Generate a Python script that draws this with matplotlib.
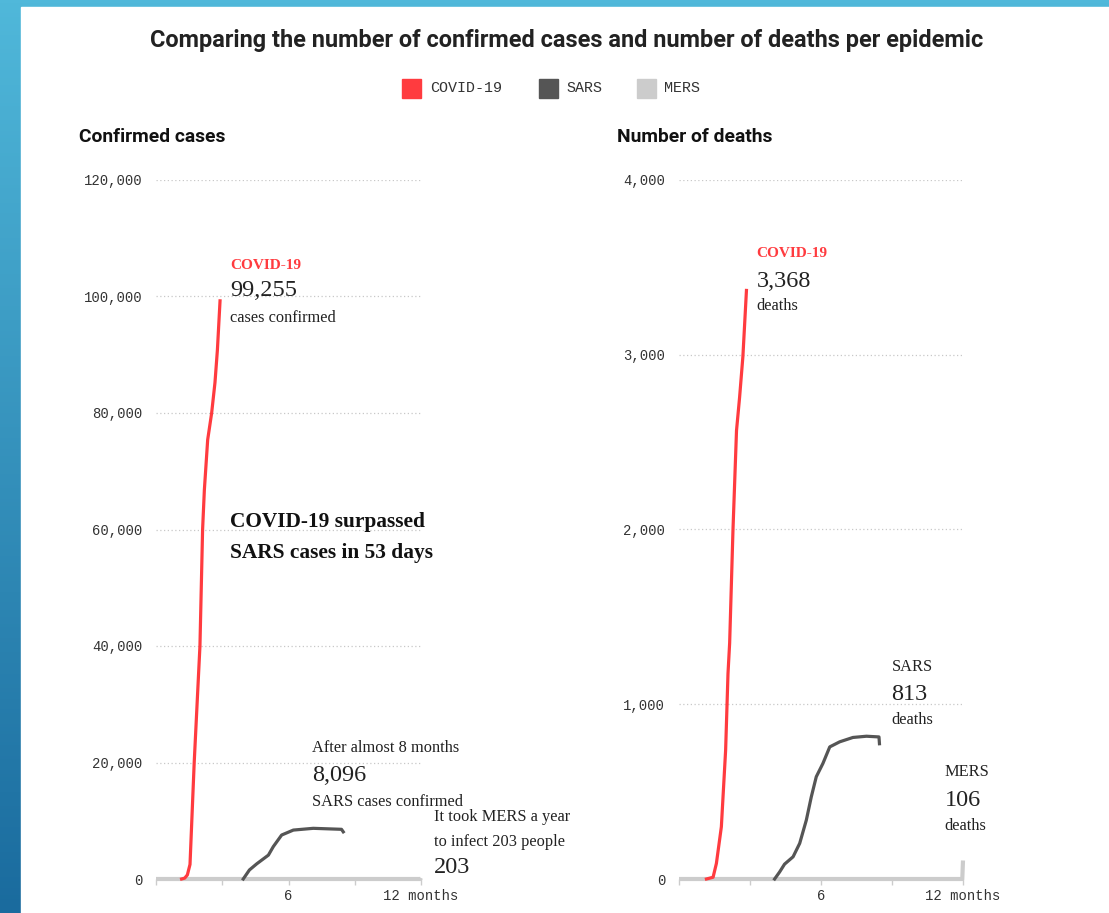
import numpy as np
import matplotlib
matplotlib.use('Agg')
import matplotlib.pyplot as plt
from matplotlib import font_manager
from matplotlib.patches import Rectangle

## Data (x = months since the epidemic started)
covid_case_months = [0.0, 1.16, 1.30, 1.42, 1.54, 1.73, 1.99, 2.11, 2.19, 2.34, 2.52, 2.67, 2.78, 2.90]
covid_cases = [0, 0, 150, 700, 2500, 20000, 40000, 60000, 66800, 75400, 80000, 85200, 90800, 99255]
sars_case_months = [0.0, 3.95, 4.23, 4.56, 5.09, 5.31, 5.69, 6.22, 7.12, 8.40, 8.48]
sars_cases = [0, 0, 1550, 2600, 4100, 5550, 7550, 8400, 8700, 8530, 8096]
mers_case_months = [0.0, 11.97, 12.0]
mers_cases = [0, 0, 203]

covid_death_months = [0.0, 1.16, 1.44, 1.58, 1.79, 1.97, 2.07, 2.14, 2.28, 2.43, 2.56, 2.70, 2.85]
covid_deaths = [0, 0, 10, 89, 299, 737, 1175, 1350, 1994, 2566, 2756, 2990, 3368]
sars_death_months = [0.0, 4.04, 4.25, 4.46, 4.82, 5.10, 5.38, 5.59, 5.80, 6.08, 6.37, 6.79, 7.35, 7.92, 8.45, 8.47]
sars_deaths = [0, 0, 40, 85, 127, 204, 337, 470, 585, 661, 756, 785, 810, 817, 813, 774]
mers_death_months = [0.0, 11.97, 12.0]
mers_deaths = [0, 0, 106]

case_ticks = [0, 20000, 40000, 60000, 80000, 100000, 120000]
death_ticks = [0, 1000, 2000, 3000, 4000]
series_names = ['COVID-19', 'SARS', 'MERS']
series_colors = ['#ff3b3f', '#555555', '#cccccc']

W, H = 1109, 913
names = {f.name for f in font_manager.fontManager.ttflist}
COND = 'Roboto' if 'Roboto' in names else 'DejaVu Sans'
MONO = 'Liberation Mono'
SERIF = 'Liberation Serif'
small = 11.8   # small annotation text
big = 17.5     # the headline numbers
lw = 2.3

def fx(x):
    return x / W

def fy(y):
    return 1 - y / H

fig = plt.figure(figsize=(W / 100, H / 100), dpi=100)

# blue frame on the left and top
bg = fig.add_axes([0, 0, 1, 1], zorder=-10)
grad = np.linspace(0, 1, 256).reshape(-1, 1)
cmap = matplotlib.colors.LinearSegmentedColormap.from_list('frame', ['#50b8da', '#1a6b9e'])
bg.imshow(grad, aspect='auto', cmap=cmap, extent=[0, 1, 0, 1])
bg.add_patch(Rectangle((fx(21), 0), 1, fy(7), color='white', transform=bg.transAxes))
bg.set_axis_off()

# title and legend
fig.text(fx(567), fy(41), 'Comparing the number of confirmed cases and number of deaths per epidemic',
         ha='center', va='center', fontsize=16.9, fontweight='bold', family=COND, color='#222222')
leg_sq = [402, 539, 637]
leg_tx = [430, 566, 664]
for sx, tx, name, col in zip(leg_sq, leg_tx, series_names, series_colors):
    fig.patches.append(Rectangle((fx(sx), fy(98)), fx(19), 19 / H, color=col, transform=fig.transFigure))
    fig.text(fx(tx), fy(88), name, ha='left', va='center', fontsize=10.8, family=MONO, color='#333333')

fig.text(fx(79), fy(137), 'Confirmed cases', ha='left', va='center', fontsize=13.9,
         fontweight='bold', family=COND, color='#111111')
fig.text(fx(617), fy(137), 'Number of deaths', ha='left', va='center', fontsize=13.9,
         fontweight='bold', family=COND, color='#111111')


def setup_axis(ax, ymax, yticks):
    ax.set_xlim(0, 12)
    ax.set_ylim(0, ymax)
    for s in ax.spines.values():
        s.set_visible(False)
    ax.set_yticks(yticks)
    ax.set_yticklabels([f'{t:,}' for t in yticks], family=MONO, fontsize=10, color='#333333')
    ax.tick_params(axis='y', length=0, pad=10)
    for t in yticks[1:]:
        ax.axhline(t, color='#c8c8c8', lw=0.9, ls=(0, (1, 2)), zorder=0)
    ax.set_xticks([0, 3, 6, 9, 12])
    ax.set_xticklabels(['', '', '6', '', '12 months'], family=MONO, fontsize=10, color='#333333')
    ax.tick_params(axis='x', length=4, width=1, color='#cccccc', pad=3)


# left panel: confirmed cases
ax1 = fig.add_axes([fx(156), fy(879), fx(421) - fx(156), fy(180) - fy(879)])
setup_axis(ax1, 120000, case_ticks)
ax1.plot(mers_case_months, mers_cases, color=series_colors[2], lw=3, clip_on=False, solid_capstyle='butt')
ax1.plot(sars_case_months[1:], sars_cases[1:], color=series_colors[1], lw=lw, clip_on=False)
ax1.plot(covid_case_months[1:], covid_cases[1:], color=series_colors[0], lw=lw, clip_on=False)

ax1.text(3.35, 105400, 'COVID-19', color=series_colors[0], fontsize=11, fontweight='bold',
         family=SERIF, va='center')
ax1.text(3.35, 101100, '99,255', color='#222222', fontsize=big, family=SERIF, va='center')
ax1.text(3.35, 96300, 'cases confirmed', color='#222222', fontsize=small, family=SERIF, va='center')
ax1.text(3.35, 61300, 'COVID-19 surpassed', color='#111111', fontsize=15.4, fontweight='bold',
         family=SERIF, va='center')
ax1.text(3.35, 56000, 'SARS cases in 53 days', color='#111111', fontsize=15.4, fontweight='bold',
         family=SERIF, va='center')
ax1.text(7.07, 22500, 'After almost 8 months', color='#222222', fontsize=small, family=SERIF, va='center')
ax1.text(7.07, 17700, '8,096', color='#222222', fontsize=big, family=SERIF, va='center')
ax1.text(7.07, 13200, 'SARS cases confirmed', color='#222222', fontsize=small, family=SERIF, va='center')
ax1.text(12.59, 10600, 'It took MERS a year', color='#222222', fontsize=small, family=SERIF,
         va='center', clip_on=False)
ax1.text(12.59, 6350, 'to infect 203 people', color='#222222', fontsize=small, family=SERIF,
         va='center', clip_on=False)
ax1.text(12.59, 1900, '203', color='#222222', fontsize=big, family=SERIF, va='center', clip_on=False)

# right panel: deaths
ax2 = fig.add_axes([fx(679), fy(879), fx(963) - fx(679), fy(180) - fy(879)])
setup_axis(ax2, 4000, death_ticks)
ax2.plot(mers_death_months, mers_deaths, color=series_colors[2], lw=3, clip_on=False, solid_capstyle='butt')
ax2.plot(sars_death_months[1:], sars_deaths[1:], color=series_colors[1], lw=lw, clip_on=False)
ax2.plot(covid_death_months[1:], covid_deaths[1:], color=series_colors[0], lw=lw, clip_on=False)

ax2.text(3.28, 3580, 'COVID-19', color=series_colors[0], fontsize=11, fontweight='bold',
         family=SERIF, va='center')
ax2.text(3.28, 3420, '3,368', color='#222222', fontsize=big, family=SERIF, va='center')
ax2.text(3.28, 3280, 'deaths', color='#222222', fontsize=small, family=SERIF, va='center')
ax2.text(8.98, 1213, 'SARS', color='#222222', fontsize=small, family=SERIF, va='center')
ax2.text(8.98, 1053, '813', color='#222222', fontsize=big, family=SERIF, va='center')
ax2.text(8.98, 910, 'deaths', color='#222222', fontsize=small, family=SERIF, va='center')
ax2.text(11.22, 612, 'MERS', color='#222222', fontsize=small, family=SERIF, va='center')
ax2.text(11.22, 452, '106', color='#222222', fontsize=big, family=SERIF, va='center')
ax2.text(11.22, 303, 'deaths', color='#222222', fontsize=small, family=SERIF, va='center')

fig.savefig('out.png', dpi=100)
